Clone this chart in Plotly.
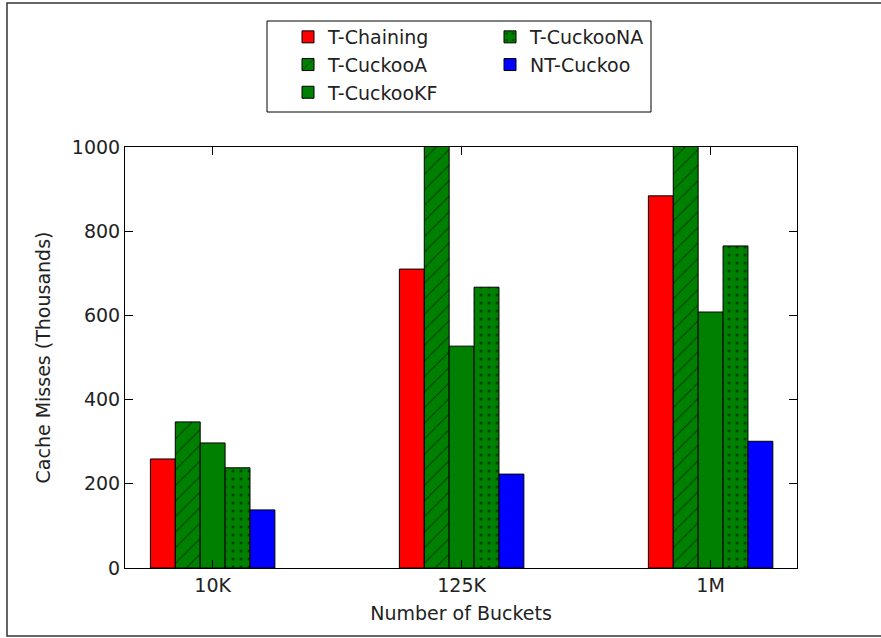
import plotly.graph_objects as go

# Bucket counts on the x axis
buckets = ["10K", "125K", "1M"]

# Cache misses (thousands) per hash-table variant
t_chaining = [259, 710, 884]
t_cuckoo_a = [347, 1150, 1300]
t_cuckoo_kf = [297, 527, 608]
t_cuckoo_na = [238, 667, 765]
nt_cuckoo = [138, 223, 301]

y_ticks = [0, 200, 400, 600, 800, 1000]

FONT = "DejaVu Sans"
W, H = 881, 638
L, R, T, B = 125, 84, 147, 70
PW, PH = W - L - R, H - T - B


def px_x(p):
    return (p - L) / PW


def px_y(p):
    return (H - B - p) / PH


series = [
    ("T-Chaining", t_chaining, dict(color="#ff0000"), "legend", 1),
    ("T-CuckooA", t_cuckoo_a,
     dict(color="#008000", pattern=dict(shape="/", fgcolor="black", bgcolor="#008000",
                                        size=11, solidity=0.1, fillmode="overlay")),
     "legend", 2),
    ("T-CuckooKF", t_cuckoo_kf, dict(color="#008000"), "legend", 3),
    ("T-CuckooNA", t_cuckoo_na,
     dict(color="#008000", pattern=dict(shape=".", fgcolor="black", bgcolor="#008000",
                                        size=8, solidity=0.12, fillmode="overlay")),
     "legend2", 1),
    ("NT-Cuckoo", nt_cuckoo, dict(color="#0000ff"), "legend2", 2),
]

fig = go.Figure()
for name, vals, marker, leg, rank in series:
    marker = dict(marker)
    marker["line"] = dict(color="black", width=1)
    fig.add_trace(go.Bar(
        x=buckets, y=vals, name=name, marker=marker,
        legend=leg, legendrank=rank, legendgroup=name,
    ))

axis_common = dict(
    showline=True, linecolor="black", linewidth=1, mirror="ticks",
    ticks="inside", ticklen=8, tickcolor="black", tickwidth=1,
    showgrid=False, zeroline=False,
    tickfont=dict(family=FONT, size=19, color="#222"),
)

fig.update_layout(
    width=W, height=H,
    margin=dict(l=L, r=R, t=T, b=B, pad=0),
    paper_bgcolor="white", plot_bgcolor="white",
    barmode="group", bargap=0.5, bargroupgap=0,
    font=dict(family=FONT, size=19, color="#222"),
    xaxis=dict(axis_common, range=[-0.352, 2.347],
               title=dict(text="Number of Buckets", standoff=11,
                          font=dict(family=FONT, size=19, color="#222"))),
    yaxis=dict(axis_common, range=[0, 1000], tickvals=y_ticks,
               title=dict(text="Cache Misses (Thousands)", standoff=16,
                          font=dict(family=FONT, size=19, color="#222"))),
    legend=dict(x=px_x(288), y=px_y(18), xanchor="left", yanchor="top",
                bgcolor="rgba(0,0,0,0)", borderwidth=0, tracegroupgap=0,
                traceorder="grouped",
                font=dict(family=FONT, size=19, color="#222")),
    legend2=dict(x=px_x(490), y=px_y(18), xanchor="left", yanchor="top",
                 bgcolor="rgba(0,0,0,0)", borderwidth=0, tracegroupgap=0,
                 traceorder="grouped",
                 font=dict(family=FONT, size=19, color="#222")),
    showlegend=True,
    shapes=[
        # legend frame
        dict(type="rect", xref="paper", yref="paper",
             x0=px_x(267), x1=px_x(651), y0=px_y(112), y1=px_y(21),
             line=dict(color="black", width=1), fillcolor="rgba(0,0,0,0)"),
        # figure frame
        dict(type="rect", xref="paper", yref="paper",
             x0=px_x(7), x1=px_x(895), y0=px_y(636), y1=px_y(3),
             line=dict(color="#333", width=1.5), fillcolor="rgba(0,0,0,0)"),
    ],
)

fig.write_html("out.html")
